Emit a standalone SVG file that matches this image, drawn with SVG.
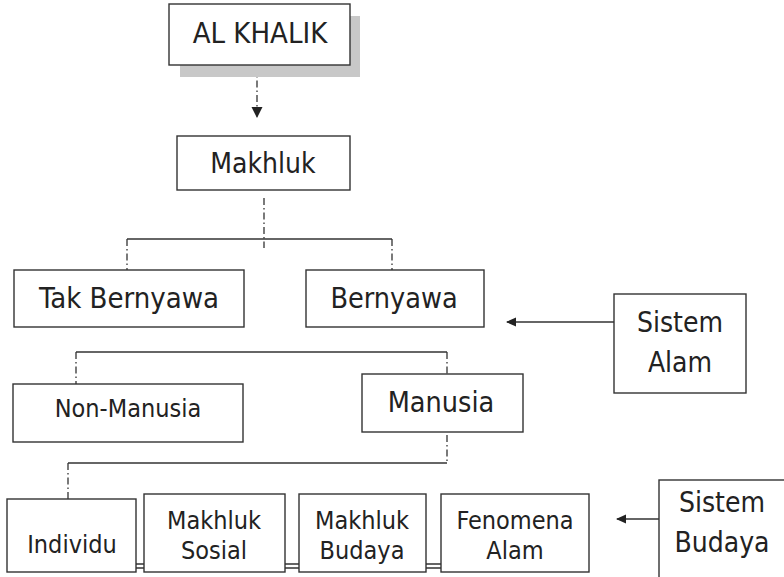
<svg xmlns="http://www.w3.org/2000/svg" width="784" height="577" viewBox="0 0 784 577">
<style>
.box{fill:#fff;stroke:#333;stroke-width:1.4}
.t{font-family:"DejaVu Sans Condensed","DejaVu Sans",sans-serif;font-stretch:condensed;fill:#222;text-anchor:middle}
.dd{fill:none;stroke:#333;stroke-width:1.3;stroke-dasharray:7 3 1.5 3}
.sl{fill:none;stroke:#333;stroke-width:1.3}
</style>
<defs>
<marker id="ah" markerWidth="10" markerHeight="10" refX="9" refY="5" orient="auto" markerUnits="userSpaceOnUse">
<path d="M0,0.5 L10,5 L0,9.5 Z" fill="#222"/>
</marker>
<marker id="ahb" markerWidth="12" markerHeight="12" refX="11" refY="6" orient="auto" markerUnits="userSpaceOnUse">
<path d="M0,0.5 L11,6 L0,11.5 Z" fill="#222"/>
</marker>
</defs>
<rect width="784" height="577" fill="#fff"/>
<g id="connectors">
<line class="dd" x1="257" y1="66" x2="257" y2="118" marker-end="url(#ahb)"/>
<line class="dd" x1="264" y1="198" x2="264" y2="248"/>
<line class="sl" x1="127" y1="239" x2="392" y2="239"/>
<line class="dd" x1="127" y1="239" x2="127" y2="281"/>
<line class="dd" x1="392" y1="239" x2="392" y2="281"/>
<line class="sl" x1="76" y1="352" x2="447" y2="352"/>
<line class="dd" x1="76" y1="352" x2="76" y2="393"/>
<line class="dd" x1="447" y1="352" x2="447" y2="384"/>
<line class="dd" x1="447" y1="435" x2="447" y2="463"/>
<line class="sl" x1="68" y1="463" x2="447" y2="463"/>
<line class="dd" x1="68" y1="463" x2="68" y2="499"/>
<line class="sl" x1="614" y1="322" x2="507" y2="322" marker-end="url(#ah)"/>
<line class="sl" x1="659" y1="519" x2="617" y2="519" marker-end="url(#ah)"/>
<path class="sl" d="M136,564 H144 M136,568 H144 M285,564 H299 M285,568 H299 M426,564 H441 M426,568 H441"/>
</g>
<g id="al-khalik">
<rect x="180" y="16" width="180" height="61" fill="#c8c8c8"/>
<rect class="box" x="169" y="4" width="181" height="61"/>
<text class="t" x="260" y="43" font-size="29">AL KHALIK</text>
</g>
<g id="makhluk">
<rect class="box" x="177" y="136" width="173" height="54"/>
<text class="t" x="263" y="173" font-size="28">Makhluk</text>
</g>
<g id="tak-bernyawa">
<rect class="box" x="14" y="270" width="230" height="57"/>
<text class="t" x="129" y="308" font-size="29">Tak Bernyawa</text>
</g>
<g id="bernyawa">
<rect class="box" x="306" y="270" width="178" height="57"/>
<text class="t" x="394" y="308" font-size="28.5">Bernyawa</text>
</g>
<g id="sistem-alam">
<rect class="box" x="614" y="294" width="132" height="99"/>
<text class="t" x="680" y="332" font-size="28">Sistem</text>
<text class="t" x="680" y="372" font-size="28">Alam</text>
</g>
<g id="non-manusia">
<rect class="box" x="13" y="384" width="230" height="58"/>
<text class="t" x="128" y="417" font-size="25">Non-Manusia</text>
</g>
<g id="manusia">
<rect class="box" x="362" y="374" width="161" height="58"/>
<text class="t" x="441" y="412" font-size="28.5">Manusia</text>
</g>
<g id="individu">
<rect class="box" x="7" y="499" width="129" height="73"/>
<text class="t" x="72" y="553" font-size="25">Individu</text>
</g>
<g id="makhluk-sosial">
<rect class="box" x="144" y="494" width="141" height="78"/>
<text class="t" x="214" y="529" font-size="25">Makhluk</text>
<text class="t" x="214" y="559" font-size="25">Sosial</text>
</g>
<g id="makhluk-budaya">
<rect class="box" x="299" y="494" width="127" height="78"/>
<text class="t" x="362" y="529" font-size="25">Makhluk</text>
<text class="t" x="362" y="559" font-size="25">Budaya</text>
</g>
<g id="fenomena-alam">
<rect class="box" x="441" y="494" width="148" height="78"/>
<text class="t" x="515" y="529" font-size="25">Fenomena</text>
<text class="t" x="515" y="559" font-size="25">Alam</text>
</g>
<g id="sistem-budaya">
<rect class="box" x="659" y="480" width="200" height="150"/>
<text class="t" x="722" y="512" font-size="28">Sistem</text>
<text class="t" x="722" y="552" font-size="28">Budaya</text>
</g>
</svg>
